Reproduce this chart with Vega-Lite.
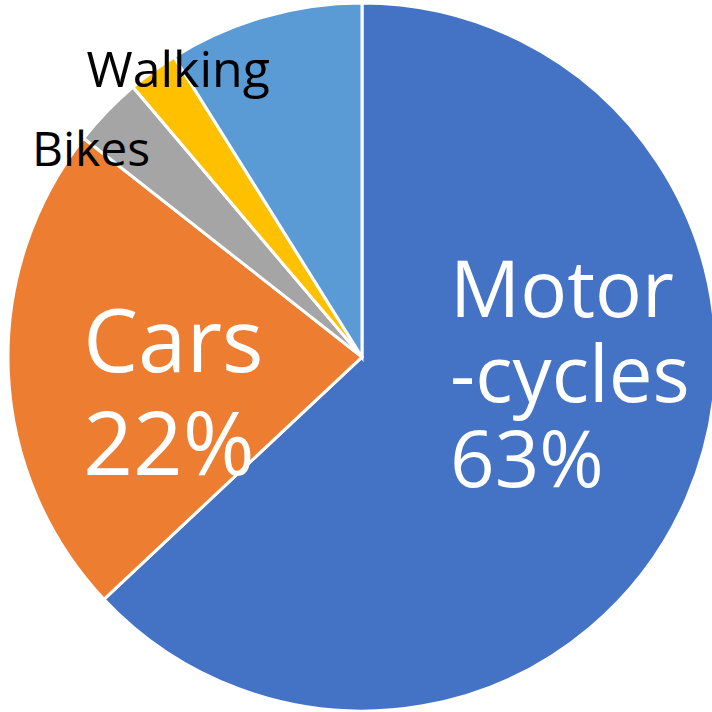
{
  "$schema": "https://vega.github.io/schema/vega-lite/v6.json",
  "width": 724,
  "height": 714,
  "padding": 0,
  "autosize": {"type": "none"},
  "background": "white",
  "view": {"stroke": null},
  "data": {
    "values": [
      {"category": "Motorcycles", "value": 63, "order": 1, "label": "Motor\n-cycles\n63%"},
      {"category": "Cars", "value": 22.6, "order": 2, "label": "Cars\n22%"},
      {"category": "Bikes", "value": 3.2, "order": 3, "label": "Bikes"},
      {"category": "Walking", "value": 2.3, "order": 4, "label": "Walking"},
      {"category": "Other", "value": 8.9, "order": 5, "label": ""}
    ]
  },
  "encoding": {
    "theta": {"field": "value", "type": "quantitative", "stack": true, "scale": {"domain": [0, 100]}},
    "order": {"field": "order", "type": "quantitative"}
  },
  "layer": [
    {
      "mark": {"type": "arc", "radius": 354, "stroke": "white", "strokeWidth": 3},
      "encoding": {
        "color": {
          "field": "category", "type": "nominal", "legend": null,
          "scale": {
            "domain": ["Motorcycles", "Cars", "Bikes", "Walking", "Other"],
            "range": ["#4472C4", "#ED7D31", "#A5A5A5", "#FFC000", "#5B9BD5"]
          }
        }
      }
    },
    {
      "mark": {"type": "text", "radius": 96, "dx": 0, "dy": -78, "align": "left", "baseline": "alphabetic", "font": "Open Sans", "fontSize": 78, "lineHeight": 85, "lineBreak": "\n", "color": "white"},
      "encoding": {"text": {"condition": {"test": "datum.category === 'Motorcycles'", "field": "label"}, "value": ""}}
    },
    {
      "mark": {"type": "text", "radius": 279, "dx": 0, "dy": 3, "align": "left", "baseline": "alphabetic", "font": "Open Sans", "fontSize": 87, "lineHeight": 103, "lineBreak": "\n", "color": "white"},
      "encoding": {"text": {"condition": {"test": "datum.category === 'Cars'", "field": "label"}, "value": ""}}
    },
    {
      "mark": {"type": "text", "radius": 290, "dx": -3, "dy": 10, "align": "right", "baseline": "alphabetic", "font": "Open Sans", "fontSize": 48, "color": "black"},
      "encoding": {"text": {"condition": {"test": "datum.category === 'Bikes'", "field": "label"}, "value": ""}}
    },
    {
      "mark": {"type": "text", "radius": 330, "dx": 11, "dy": -4, "align": "center", "baseline": "alphabetic", "font": "Open Sans", "fontSize": 50, "color": "black"},
      "encoding": {"text": {"condition": {"test": "datum.category === 'Walking'", "field": "label"}, "value": ""}}
    }
  ]
}
